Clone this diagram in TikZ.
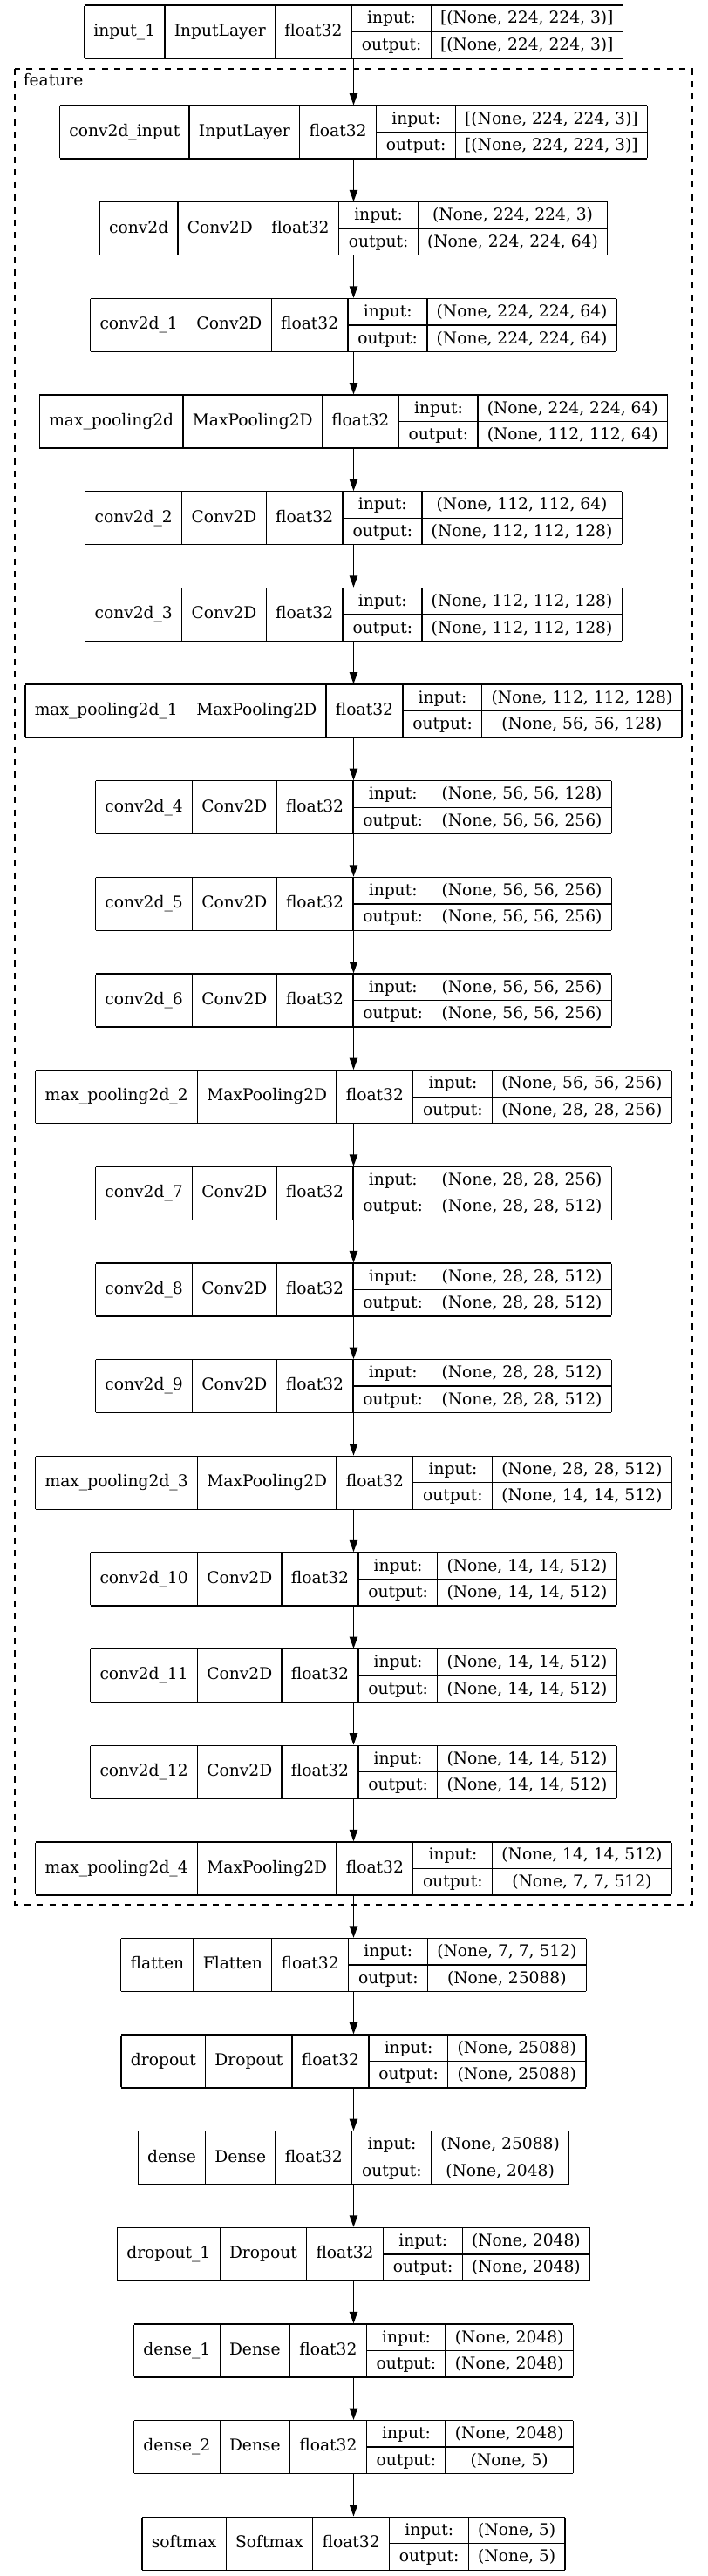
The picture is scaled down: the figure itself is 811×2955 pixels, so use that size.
\documentclass[tikz,border=0pt]{standalone}
\usepackage{fontspec}
\setmainfont{DejaVu Serif}
\usetikzlibrary{arrows.meta}

\newcommand{\layerfont}{\fontsize{14}{16}\selectfont}
\setlength{\tabcolsep}{8.125pt}
\setlength{\arrayrulewidth}{1pt}
\renewcommand{\arraystretch}{1.367}
\def\cx{405.5}

\tikzset{
	layer/.style={inner sep=0pt,outer sep=0pt,anchor=north,font=\layerfont},
	flow/.style={-{Triangle[length=10pt,width=7pt]},line width=1pt},
	cluster/.style={dash pattern=on 5.4pt off 5.4pt,line width=1pt}
}

% one layer box: id, top (px), name, class, input shape, output shape
\newcommand{\layer}[6]{%
	\node[layer] (#1) at (\cx,#2) {\begin{tabular}{|c|c|c|@{}c@{}|}\hline
		#3 & #4 & float32 & \begin{tabular}{c|c}input: & #5\\\hline output: & #6\end{tabular}\\\hline
	\end{tabular}};
}

\begin{document}
\begin{tikzpicture}[x=0.75pt,y=-0.75pt]
	\useasboundingbox (0,0) rectangle (811,2955);
	
	%CLUSTER
	\draw[cluster] (17,79) rectangle (794,2185);
	\node[anchor=base west,inner sep=0pt,font=\layerfont] (feature) at (26.5,98) {feature};
	
	%LAYERS
	\layer{input1}{5.2}{input\_1}{InputLayer}{[(None, 224, 224, 3)]}{[(None, 224, 224, 3)]}
	\layer{conv2dinput}{120.5}{conv2d\_input}{InputLayer}{[(None, 224, 224, 3)]}{[(None, 224, 224, 3)]}
	\layer{conv2d}{231.15}{conv2d}{Conv2D}{(None, 224, 224, 3)}{(None, 224, 224, 64)}
	\layer{conv2d1}{341.8}{conv2d\_1}{Conv2D}{(None, 224, 224, 64)}{(None, 224, 224, 64)}
	\layer{maxpool}{452.45}{max\_pooling2d}{MaxPooling2D}{(None, 224, 224, 64)}{(None, 112, 112, 64)}
	\layer{conv2d2}{563.1}{conv2d\_2}{Conv2D}{(None, 112, 112, 64)}{(None, 112, 112, 128)}
	\layer{conv2d3}{673.75}{conv2d\_3}{Conv2D}{(None, 112, 112, 128)}{(None, 112, 112, 128)}
	\layer{maxpool1}{784.4}{max\_pooling2d\_1}{MaxPooling2D}{(None, 112, 112, 128)}{(None, 56, 56, 128)}
	\layer{conv2d4}{895.05}{conv2d\_4}{Conv2D}{(None, 56, 56, 128)}{(None, 56, 56, 256)}
	\layer{conv2d5}{1005.7}{conv2d\_5}{Conv2D}{(None, 56, 56, 256)}{(None, 56, 56, 256)}
	\layer{conv2d6}{1116.35}{conv2d\_6}{Conv2D}{(None, 56, 56, 256)}{(None, 56, 56, 256)}
	\layer{maxpool2}{1227}{max\_pooling2d\_2}{MaxPooling2D}{(None, 56, 56, 256)}{(None, 28, 28, 256)}
	\layer{conv2d7}{1337.65}{conv2d\_7}{Conv2D}{(None, 28, 28, 256)}{(None, 28, 28, 512)}
	\layer{conv2d8}{1448.3}{conv2d\_8}{Conv2D}{(None, 28, 28, 512)}{(None, 28, 28, 512)}
	\layer{conv2d9}{1558.95}{conv2d\_9}{Conv2D}{(None, 28, 28, 512)}{(None, 28, 28, 512)}
	\layer{maxpool3}{1669.6}{max\_pooling2d\_3}{MaxPooling2D}{(None, 28, 28, 512)}{(None, 14, 14, 512)}
	\layer{conv2d10}{1780.25}{conv2d\_10}{Conv2D}{(None, 14, 14, 512)}{(None, 14, 14, 512)}
	\layer{conv2d11}{1890.9}{conv2d\_11}{Conv2D}{(None, 14, 14, 512)}{(None, 14, 14, 512)}
	\layer{conv2d12}{2001.55}{conv2d\_12}{Conv2D}{(None, 14, 14, 512)}{(None, 14, 14, 512)}
	\layer{maxpool4}{2112.2}{max\_pooling2d\_4}{MaxPooling2D}{(None, 14, 14, 512)}{(None, 7, 7, 512)}
	\layer{flatten}{2222.8}{flatten}{Flatten}{(None, 7, 7, 512)}{(None, 25088)}
	\layer{dropout}{2333.42}{dropout}{Dropout}{(None, 25088)}{(None, 25088)}
	\layer{dense}{2444.04}{dense}{Dense}{(None, 25088)}{(None, 2048)}
	\layer{dropout1}{2554.66}{dropout\_1}{Dropout}{(None, 2048)}{(None, 2048)}
	\layer{dense1}{2665.28}{dense\_1}{Dense}{(None, 2048)}{(None, 2048)}
	\layer{dense2}{2775.9}{dense\_2}{Dense}{(None, 2048)}{(None, 5)}
	\layer{softmax}{2886.52}{softmax}{Softmax}{(None, 5)}{(None, 5)}
	
	%ARROWS
	\foreach \a/\b in {input1/conv2dinput,conv2dinput/conv2d,conv2d/conv2d1,conv2d1/maxpool,
		maxpool/conv2d2,conv2d2/conv2d3,conv2d3/maxpool1,maxpool1/conv2d4,conv2d4/conv2d5,
		conv2d5/conv2d6,conv2d6/maxpool2,maxpool2/conv2d7,conv2d7/conv2d8,conv2d8/conv2d9,
		conv2d9/maxpool3,maxpool3/conv2d10,conv2d10/conv2d11,conv2d11/conv2d12,conv2d12/maxpool4,
		maxpool4/flatten,flatten/dropout,dropout/dense,dense/dropout1,dropout1/dense1,
		dense1/dense2,dense2/softmax}
		\draw[flow] (\a) -- (\b);
\end{tikzpicture}
\end{document}
